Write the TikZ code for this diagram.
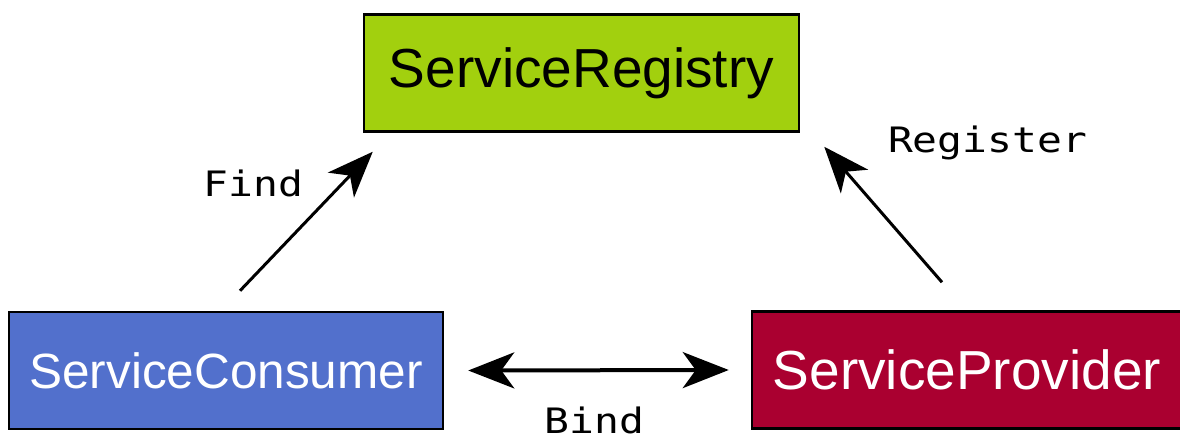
\documentclass[tikz,border=0pt]{standalone}
\usepackage{fontspec}
\setmainfont{Liberation Sans}
\newfontfamily\verbfont[FakeStretch=1.18]{DejaVu Sans Mono}
\usetikzlibrary{arrows.meta, calc}
\definecolor{regreen}{RGB}{162, 208, 14}
\definecolor{conblue}{RGB}{82, 112, 204}
\definecolor{provred}{RGB}{170, 0, 48}
\tikzset{
    service/.style={rectangle, draw=black, line width=2.5pt, inner sep=0pt, minimum height=117pt},
    verb/.style={font=\verbfont\fontsize{35}{40}\selectfont, inner sep=0pt, anchor=base},
    arrow/.style={line width=3pt, -{Stealth[length=46pt, width=36pt, inset=13pt]}},
    twoway/.style={line width=4pt, {Stealth[length=46pt, width=36pt, inset=13pt]}-{Stealth[length=46pt, width=36pt, inset=13pt]}}
}

\begin{document}
\begin{tikzpicture}[x=1pt, y=-1pt]
    \useasboundingbox (0,0) rectangle (1180,441);
    \node (registry) [service, fill=regreen, minimum width=435pt, font=\fontsize{55}{60}\selectfont] at (581.5,73) {ServiceRegistry};
    \node (consumer) [service, fill=conblue, text=white, minimum width=434pt, font=\fontsize{49.5}{56}\selectfont] at (226,370.5) {ServiceConsumer\hspace{12pt}};
    \node (provider) [service, fill=provred, text=white, minimum width=430pt, font=\fontsize{55}{60}\selectfont] at (967,370) {ServiceProvider\hspace{4pt}};

    % free ends of the connectors
    \coordinate (find-from) at ($(consumer.north)+(14,-20)$);
    \coordinate (find-to) at ($(registry.south west)+(10,19)$);
    \coordinate (reg-from) at ($(provider.north)+(-25,-28)$);
    \coordinate (reg-to) at ($(registry.south east)+(24,14)$);
    \coordinate (bind-left) at ($(consumer.east)+(24,0)$);
    \coordinate (bind-right) at ($(provider.west)+(-22,0)$);

    \node (find) [verb] at (253.5,196) {Find};
    \node (register) [verb] at (987.5,153) {Register};
    \node (bind) [verb] at (594.5,433) {Bind};

    \draw [arrow] (find-from) -- (find-to);
    \draw [arrow] (reg-from) -- (reg-to);
    \draw [twoway] (bind-left) -- (bind-right);
\end{tikzpicture}
\end{document}
